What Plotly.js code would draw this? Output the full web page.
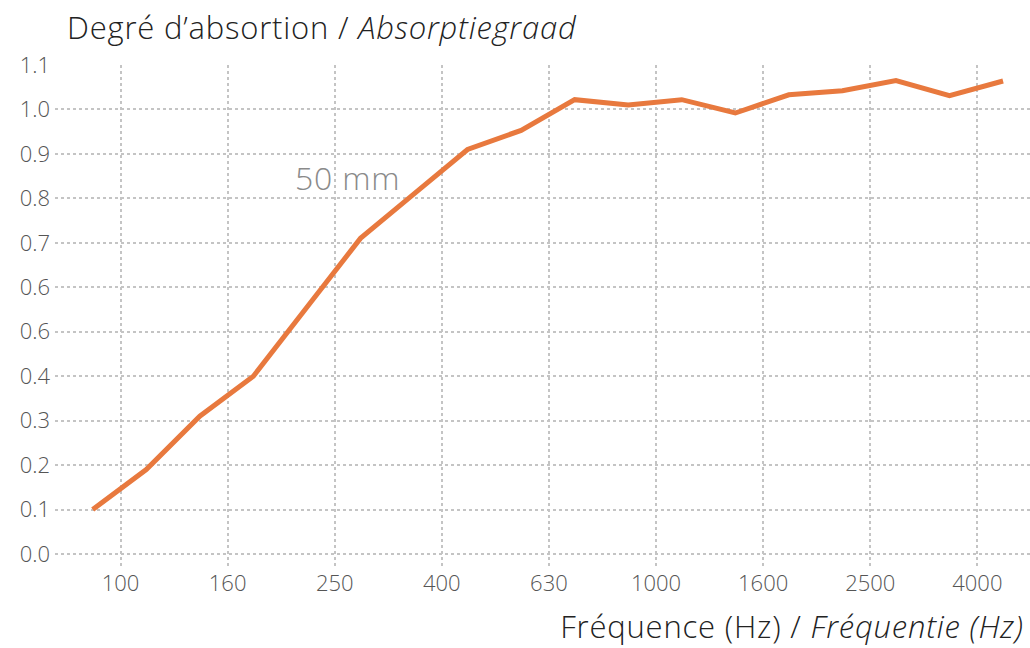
<!DOCTYPE html>
<html>
<head>
<meta charset="utf-8">
<script src="https://cdn.plot.ly/plotly-3.0.1.min.js"></script>
<style>
html,body{margin:0;padding:0;background:#fff;}
#chart{width:1030px;height:648px;}
#chart .gtitle, #chart .annotation-text{letter-spacing:0.8px;}
</style>
</head>
<body>
<div id="chart"></div>
<script>
// Third-octave bands (one point per band)
const bands = [100,125,160,200,250,315,400,500,630,800,1000,1250,1600,2000,2500,3150,4000,5000];
const absorption = [0.10,0.19,0.31,0.40,0.555,0.71,0.81,0.91,0.953,1.022,1.01,1.022,0.992,1.033,1.042,1.065,1.031,1.064];
const seriesName = "50 mm";
const xTickLabels = ["100","160","250","400","630","1000","1600","2500","4000"];
const yTickValues = [0,0.1,0.2,0.3,0.4,0.5,0.6,0.7,0.8,0.9,1.0,1.1];
const yTickLabels = ["0.0","0.1","0.2","0.3","0.4","0.6","0.6","0.7","0.8","0.9","1.0","1.1"];

const xIdx = bands.map((_, i) => i);
const tickOffset = 0.52;
const xTickVals = xTickLabels.map((_, k) => 2 * k + tickOffset);

const FONT = "'Open Sans', Lato, sans-serif";
const grid = {gridcolor: "#c4c4c4", gridwidth: 2, griddash: "dot"};

const trace = {
  x: xIdx, y: absorption, type: "scatter", mode: "lines", name: seriesName,
  line: {color: "#E8793E", width: 5}, hoverinfo: "skip"
};

const layout = {
  width: 1030, height: 648,
  margin: {l: 55, r: 0, t: 65, b: 80},
  paper_bgcolor: "#fff", plot_bgcolor: "#fff",
  showlegend: false,
  font: {family: FONT, color: "#555"},
  title: {
    text: "Degré d’absortion / <i>Absorptiegraad</i>",
    font: {family: FONT, size: 31, color: "#222", weight: 300},
    xref: "container", yref: "container",
    x: 67/1030, xanchor: "left", y: 1 - 28/648, yanchor: "middle"
  },
  xaxis: Object.assign({
    range: [-0.704, 17.503], showline: false, zeroline: false,
    tickmode: "array", tickvals: xTickVals, ticktext: xTickLabels,
    ticks: "", tickfont: {family: FONT, size: 22, color: "#555", weight: 300},
    fixedrange: true
  }, grid),
  yaxis: Object.assign({
    range: [-0.0315, 1.1], showline: false, zeroline: false,
    tickmode: "array", tickvals: yTickValues, ticktext: yTickLabels,
    ticks: "", ticklabelstandoff: 4, tickfont: {family: FONT, size: 22, color: "#555", weight: 300},
    fixedrange: true
  }, grid),
  annotations: [
    {text: "Fréquence (Hz) / <i>Fréquentie (Hz)</i>", xref: "paper", yref: "paper",
     x: (571 - 55) / 975, xanchor: "left", y: -(626 - 568) / 503, yanchor: "middle", showarrow: false,
     font: {family: FONT, size: 31, color: "#222", weight: 300}},
    {text: seriesName, xref: "x", yref: "y", x: 4.75, y: 0.848, showarrow: false,
     xanchor: "center", yanchor: "middle",
     font: {family: FONT, size: 32, color: "#8a8a8a", weight: 300}}
  ]
};

Plotly.newPlot("chart", [trace], layout, {displayModeBar: false, staticPlot: true});
</script>
</body>
</html>
